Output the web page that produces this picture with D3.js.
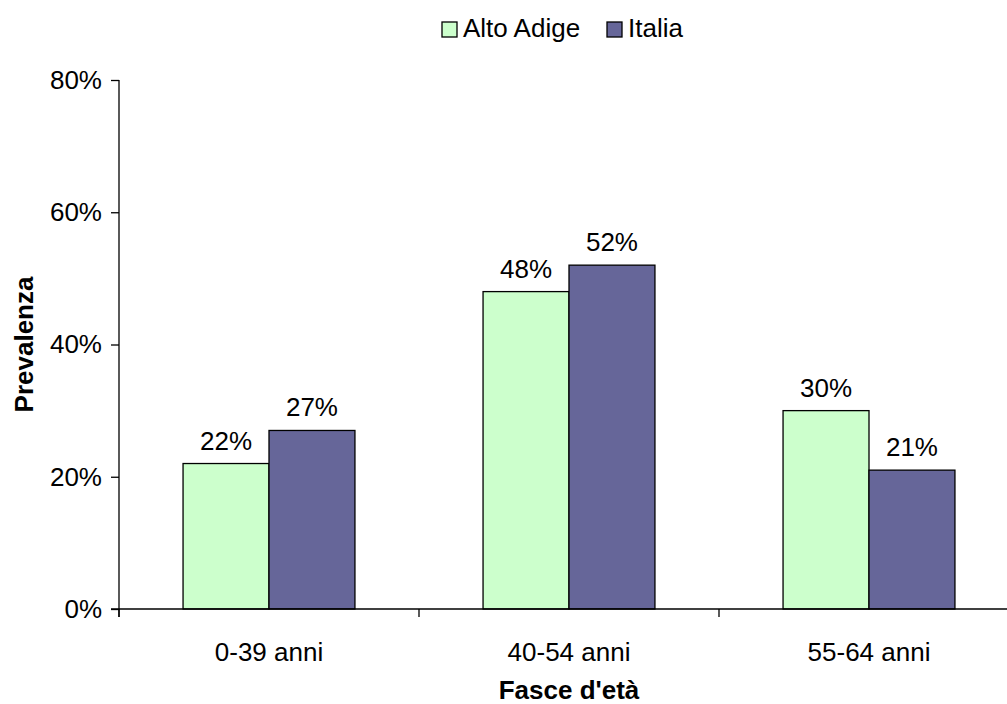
<!DOCTYPE html>
<html>
<head>
<meta charset="utf-8">
<script src="https://cdn.jsdelivr.net/npm/d3@7"></script>
<style>
  html, body { margin: 0; padding: 0; background: #fff; }
  svg text { font-family: "Liberation Sans", Arial, sans-serif; fill: #000; }
</style>
</head>
<body>
<svg id="chart" width="1007" height="704"></svg>
<script>
// Age bands and prevalence per area
const categories = ["0-39 anni", "40-54 anni", "55-64 anni"];
const seriesNames = ["Alto Adige", "Italia"];
const altoAdige = [0.22, 0.48, 0.30];
const italia = [0.27, 0.52, 0.21];
const yTicks = [0, 0.2, 0.4, 0.6, 0.8];
const colors = ["#CCFFCC", "#666699"];

const svg = d3.select("#chart");
const fontSize = 26;

const plot = { left: 119, right: 1019, top: 80, bottom: 609 };

const x = d3.scaleBand().domain(categories).range([plot.left, plot.right]).padding(0);
const groupWidth = x.bandwidth() * 0.573;
const xInner = d3.scaleBand().domain(seriesNames).range([0, groupWidth]).padding(0);
const y = d3.scaleLinear().domain([0, 0.8]).range([plot.bottom, plot.top]);

const rows = categories.map((c, i) => ({
  cat: c,
  values: [
    { key: seriesNames[0], value: altoAdige[i], color: colors[0] },
    { key: seriesNames[1], value: italia[i], color: colors[1] }
  ]
}));

// Bars
const groups = svg.append("g").selectAll("g")
  .data(rows).join("g")
  .attr("transform", d => `translate(${x(d.cat) + (x.bandwidth() - groupWidth) / 2},0)`);

groups.selectAll("rect")
  .data(d => d.values).join("rect")
  .attr("x", d => xInner(d.key))
  .attr("y", d => y(d.value))
  .attr("width", xInner.bandwidth())
  .attr("height", d => y(0) - y(d.value))
  .attr("fill", d => d.color)
  .attr("stroke", "#000")
  .attr("stroke-width", 1.3);

// Value labels
groups.selectAll("text.val")
  .data(d => d.values).join("text")
  .attr("class", "val")
  .attr("x", d => xInner(d.key) + xInner.bandwidth() / 2)
  .attr("y", d => y(d.value) - 14)
  .attr("text-anchor", "middle")
  .attr("font-size", fontSize)
  .text(d => d3.format(".0%")(d.value));

// Y axis
const yAxis = d3.axisLeft(y).tickValues(yTicks).tickFormat(d3.format(".0%"))
  .tickSize(8).tickPadding(9);
const gy = svg.append("g").attr("transform", `translate(${plot.left},0)`).call(yAxis);
gy.select(".domain").attr("d", `M0,${plot.top}V${plot.bottom + 8}`)
  .attr("stroke", "#000").attr("stroke-width", 1.3);
gy.selectAll(".tick line").attr("stroke", "#000").attr("stroke-width", 1.3);
gy.selectAll(".tick text").attr("font-size", fontSize)
  .attr("font-family", "Liberation Sans, Arial, sans-serif").attr("fill", "#000");

// X axis: ticks at band boundaries, labels at band centres
const gx = svg.append("g").attr("transform", `translate(0,${plot.bottom})`);
gx.append("line")
  .attr("x1", plot.left - 8).attr("x2", plot.right)
  .attr("stroke", "#000").attr("stroke-width", 1.3);
gx.selectAll("line.tick")
  .data(categories).join("line")
  .attr("class", "tick")
  .attr("x1", d => x(d)).attr("x2", d => x(d))
  .attr("y1", 0).attr("y2", 8)
  .attr("stroke", "#000").attr("stroke-width", 1.3);
gx.selectAll("text")
  .data(categories).join("text")
  .attr("x", d => x(d) + x.bandwidth() / 2)
  .attr("y", 52)
  .attr("text-anchor", "middle")
  .attr("font-size", fontSize)
  .text(d => d);

// Axis titles
svg.append("text")
  .attr("x", (plot.left + plot.right) / 2)
  .attr("y", 699)
  .attr("text-anchor", "middle")
  .attr("font-size", fontSize)
  .attr("font-weight", "bold")
  .text("Fasce d'età");

svg.append("text")
  .attr("transform", `translate(33,${(plot.top + plot.bottom) / 2}) rotate(-90)`)
  .attr("text-anchor", "middle")
  .attr("font-size", fontSize)
  .attr("font-weight", "bold")
  .text("Prevalenza");

// Legend
const legendX = [442, 607];
const legend = svg.append("g").selectAll("g")
  .data(seriesNames).join("g")
  .attr("transform", (d, i) => `translate(${legendX[i]},22)`);
legend.append("rect")
  .attr("width", 15).attr("height", 15)
  .attr("fill", (d, i) => colors[i])
  .attr("stroke", "#000").attr("stroke-width", 1.3);
legend.append("text")
  .attr("x", 21).attr("y", 15)
  .attr("font-size", fontSize)
  .text(d => d);
</script>
</body>
</html>
